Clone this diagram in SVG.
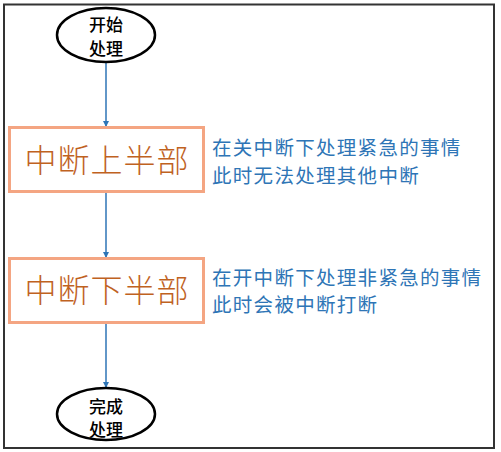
<svg xmlns="http://www.w3.org/2000/svg" width="501" height="452" viewBox="0 0 501 452">
<defs>
<style>
.term{fill:#fff;stroke:#000;stroke-width:2.5}
.tt{font-family:"Noto Sans CJK SC",sans-serif;font-size:17px;font-weight:500;fill:#000;text-anchor:middle}
.box{fill:#fff;stroke:#F4A582;stroke-width:3}
.bt{font-family:"Noto Sans CJK SC",serif;font-size:32px;font-weight:300;fill:#C0621F;text-anchor:middle;letter-spacing:1px}
.note{font-family:"Noto Sans CJK SC",sans-serif;font-size:19.5px;fill:#2E75B6;letter-spacing:1.3px}
.conn{stroke:#2E75B6;stroke-width:1.5;fill:none;marker-end:url(#ah)}
</style>
<marker id="ah" markerWidth="6" markerHeight="6" refX="5" refY="3" orient="auto" markerUnits="userSpaceOnUse">
<path d="M0,0 L6,3 L0,6 Z" fill="#2E75B6"/>
</marker>
</defs>
<rect x="4" y="4.5" width="490" height="443.5" fill="#fff" stroke="#333" stroke-width="2"/>
<g id="connectors">
<line class="conn" x1="106" y1="62" x2="106" y2="126"/>
<line class="conn" x1="106" y1="192" x2="106" y2="257"/>
<line class="conn" x1="106" y1="323" x2="106" y2="387"/>
</g>
<g id="start">
<ellipse class="term" cx="106" cy="35" rx="49" ry="27"/>
<text class="tt" x="106" y="31">开始</text>
<text class="tt" x="106" y="55">处理</text>
</g>
<g id="top-half">
<rect class="box" x="9.5" y="127.5" width="194" height="64"/>
<text class="bt" x="107" y="172">中断上半部</text>
</g>
<g id="top-note">
<text class="note" x="212" y="155">在关中断下处理紧急的事情</text>
<text class="note" x="212" y="183">此时无法处理其他中断</text>
</g>
<g id="bottom-half">
<rect class="box" x="9.5" y="258.5" width="194" height="64"/>
<text class="bt" x="107" y="302">中断下半部</text>
</g>
<g id="bottom-note">
<text class="note" x="212" y="285">在开中断下处理非紧急的事情</text>
<text class="note" x="212" y="312">此时会被中断打断</text>
</g>
<g id="end">
<ellipse class="term" cx="106" cy="414" rx="49" ry="26"/>
<text class="tt" x="106" y="413">完成</text>
<text class="tt" x="106" y="436">处理</text>
</g>
</svg>
